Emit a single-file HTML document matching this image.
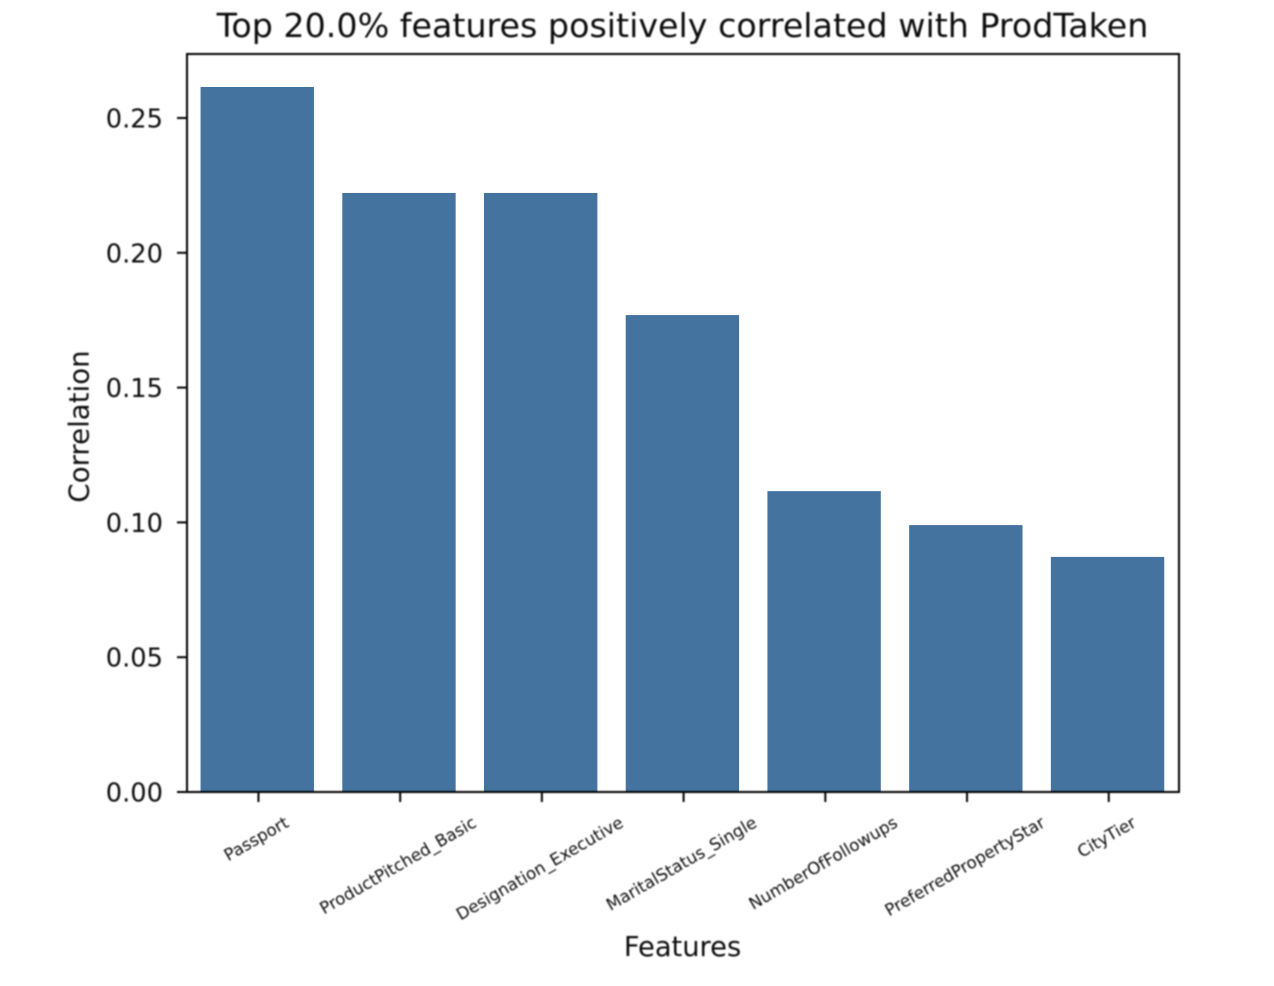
<!DOCTYPE html>
<html lang="en">
<head>
<meta charset="utf-8">
<title>Top 20.0% features positively correlated with ProdTaken</title>
<style>
html,body{margin:0;padding:0;background:#fff;width:1274px;height:986px;overflow:hidden}
svg{display:block}
text{font-family:"DejaVu Sans","Liberation Sans",sans-serif;fill:#111}
</style>
</head>
<body>
<svg id="chart" xmlns="http://www.w3.org/2000/svg" width="1274" height="986" viewBox="0 0 1274 986">
  <defs><filter id="soft" x="-5%" y="-5%" width="110%" height="110%"><feGaussianBlur stdDeviation="0.7"/></filter></defs>
  <rect width="1274" height="986" fill="#fff"/>
  <g id="bars"></g>
  <g id="axes" filter="url(#soft)">
    <rect x="187" y="54" width="992" height="738" fill="none" stroke="#000" stroke-width="2"/>
  </g>
  <g id="labels" filter="url(#soft)">
    <text x="682.5" y="37" text-anchor="middle" font-size="33.3">Top 20.0% features positively correlated with ProdTaken</text>
    <text x="682.5" y="956" text-anchor="middle" font-size="27.3">Features</text>
    <text transform="translate(88.5 426.5) rotate(-90)" text-anchor="middle" font-size="27.6">Correlation</text>
  </g>
</svg>
<script>
const categories = ["Passport", "ProductPitched_Basic", "Designation_Executive", "MaritalStatus_Single", "NumberOfFollowups", "PreferredPropertyStar", "CityTier"];
const correlations = [0.2615, 0.2222, 0.2222, 0.1769, 0.1116, 0.099, 0.0872];
const yTickValues = [0, 0.05, 0.10, 0.15, 0.20, 0.25];
const yTickLabels = ["0.00", "0.05", "0.10", "0.15", "0.20", "0.25"];

const NS = "http://www.w3.org/2000/svg";
const plot = { left: 187, right: 1179, top: 54, bottom: 792 };
const yScale = 2696;
const band = (plot.right - plot.left) / categories.length;
const xPos = function (i) { return plot.left + band * (i + 0.5); };
const yPos = function (v) { return plot.bottom - v * yScale; };

function make(tag, attrs, parent) {
  const el = document.createElementNS(NS, tag);
  for (const k in attrs) el.setAttribute(k, attrs[k]);
  parent.appendChild(el);
  return el;
}

const barsG = document.getElementById("bars");
const axesG = document.getElementById("axes");
const labelsG = document.getElementById("labels");

categories.forEach(function (name, i) {
  const barW = band * 0.8;
  const top = yPos(correlations[i]);
  const bar = make("rect", { x: xPos(i) - barW / 2 - 0.6, y: top, width: barW, height: plot.bottom - top, fill: "#4473a0" }, barsG);
  
  

  const tick = make("line", { x1: xPos(i) + 0.6, x2: xPos(i) + 0.6, y1: plot.bottom, y2: plot.bottom + 10, stroke: "#000", "stroke-width": 2 }, axesG);
  
  

  const label = make("text", { "text-anchor": "middle", "font-size": 16.7 }, labelsG);
  label.textContent = name;
  
  
  const w = label.getComputedTextLength();
  const cy = 814 + (w * 0.5 + 16.6 * 0.866) / 2;
  const cx = xPos(i) - 1.5;
  label.setAttribute("transform", "translate(" + cx + " " + cy + ") rotate(-30) translate(0 5.5)");
});

yTickValues.forEach(function (v, i) {
  const y = yPos(v);
  const tick = make("line", { x1: plot.left - 10, x2: plot.left, y1: y, y2: y, stroke: "#000", "stroke-width": 2 }, axesG);
  
  

  const label = make("text", { x: plot.left - 24, y: y + 9.5, "text-anchor": "end", "font-size": 25.7 }, labelsG);
  label.textContent = yTickLabels[i];
  
  
});
</script>
</body>
</html>
